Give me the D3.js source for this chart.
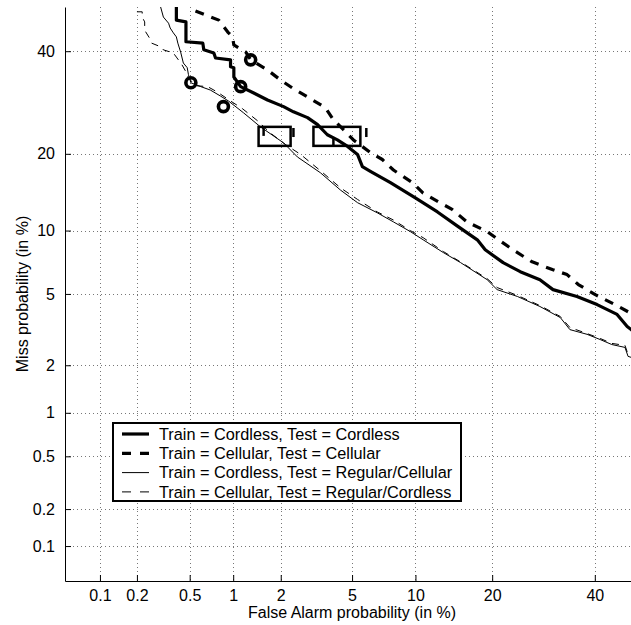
<!DOCTYPE html>
<html>
<head>
<meta charset="utf-8">
<script src="https://cdn.jsdelivr.net/npm/d3@7"></script>
<style>
  body { margin: 0; background: #fff; }
  text { font-family: "Liberation Sans", Arial, Helvetica, sans-serif; }
</style>
</head>
<body>
<div id="chart"></div>
<script>
// tick values (in %)
var xTicks = [0.1, 0.2, 0.5, 1, 2, 5, 10, 20, 40];
var yTicks = [0.1, 0.2, 0.5, 1, 2, 5, 10, 20, 40];

// DET curves: [false alarm %, miss %]
var cordlessCordless = [[0.40,50],[0.40,47.0],[0.47,46.6],[0.47,42.1],[0.62,41.8],[0.63,40.3],[0.74,39.6],[0.76,38.5],
  [0.96,38.1],[0.96,36.6],[1.01,36.4],[1.01,34.4],[1.12,32.4],[1.36,31.1],[1.66,29.7],[2.08,28.4],[2.38,27.4],
  [2.87,26.3],[3.27,25.0],[3.70,23.2],[4.19,22.3],[4.74,21.2],[5.33,19.9],[5.64,18.0],[6.18,17.3],[7.71,15.7],
  [9.99,13.7],[12.4,12.0],[15.0,10.4],[17.7,9.1],[18.9,8.2],[21.8,7.14],[24.8,6.46],[28.5,5.90],[31.1,5.26],
  [36.1,4.85],[40.5,4.40],[45.0,3.90],[47.3,3.35],[48.2,3.22],[50,3.03]];

var cellularCellular = [[0.55,49.1],[0.80,47.0],[0.92,44.3],[0.99,43.2],[1.01,41.4],[1.21,39.8],[1.30,38.1],
  [1.66,35.9],[1.99,33.8],[2.35,32.1],[2.87,30.3],[3.61,28.2],[3.99,25.9],[4.51,24.1],[5.08,22.3],[6.18,20.2],
  [7.06,19.1],[7.96,17.5],[9.70,15.7],[10.8,14.3],[12.5,13.2],[14.2,12.3],[16.2,10.9],[19.2,9.9],[21.3,9.0],
  [23.5,8.2],[27.0,7.2],[31.1,6.6],[34.0,6.25],[36.4,5.58],[40.1,4.96],[44.5,4.40],[48.2,3.95],[50,3.75]];

var cordlessRegular = [[0.305,50],[0.32,47.7],[0.35,46.3],[0.36,45.2],[0.38,44.1],[0.40,43.2],[0.41,41.8],[0.43,39.8],
  [0.45,37.4],[0.48,36.4],[0.49,34.9],[0.51,33.2],[0.60,32.4],[0.70,31.7],[0.82,30.5],[0.93,29.5],[1.17,27.2],
  [1.50,24.6],[2.08,21.8],[2.51,19.5],[3.39,17.1],[4.35,14.7],[5.33,13.1],[6.68,11.9],[7.96,10.9],[9.49,9.9],
  [10.8,9.1],[13.1,7.96],[15.3,7.15],[19.2,5.90],[20.8,5.26],[24.3,4.85],[28.5,4.30],[32.6,3.75],[34.6,3.22],
  [38.3,3.03],[41.2,2.83],[43.8,2.65],[46.8,2.55],[47.5,2.26],[48.2,2.23],[50,2.18]];

var cellularRegular = [[0.20,48.9],[0.22,48.9],[0.22,47.7],[0.23,46.6],[0.23,44.7],[0.25,43.0],[0.26,41.8],[0.31,40.9],
  [0.32,40.3],[0.38,39.6],[0.40,38.7],[0.44,37.0],[0.47,35.5],[0.49,34.2],[0.55,32.6],[0.67,32.4],[0.74,31.7],
  [0.80,31.1],[0.96,29.5],[1.15,28.0],[1.44,25.7],[1.73,23.5],[2.14,21.5],[2.62,19.9],[3.39,17.4],[4.35,15.0],
  [5.33,13.5],[6.68,12.0],[7.96,11.1],[9.49,10.0],[10.8,9.3],[13.1,8.05],[15.3,7.2],[19.2,5.97],[20.8,5.39],
  [24.3,4.91],[28.5,4.35],[32.6,3.80],[34.6,3.31],[38.3,3.06],[41.2,2.87],[43.8,2.69],[46.8,2.62],[47.5,2.32],
  [48.2,2.29],[50,2.25]];

// operating points (circles), min-cost boxes [fa0, fa1, miss0, miss1]
// and the short dashed-box edges beside them [fa, miss0, miss1]
var circlePoints = [[1.12,32.4],[1.30,38.1],[0.51,33.2],[0.86,28.4]];
var boxesSolid = [[1.46,2.29,21.3,24.6],[3.10,5.51,21.3,24.6]];
var boxTicks = [[1.57,23.0,24.6],[2.38,22.8,24.4],[3.99,21.3,22.5],[5.90,22.8,24.4]];

var legendLabels = [
  "Train = Cordless, Test = Cordless",
  "Train = Cellular, Test = Cellular",
  "Train = Cordless, Test = Regular/Cellular",
  "Train = Cellular, Test = Regular/Cordless"
];

// inverse normal cdf (Acklam)
function probit(p) {
  var a = [-3.969683028665376e+01, 2.209460984245205e+02, -2.759285104469687e+02, 1.383577518672690e+02, -3.066479806614716e+01, 2.506628277459239e+00];
  var b = [-5.447609879822406e+01, 1.615858368580409e+02, -1.556989798598866e+02, 6.680131188771972e+01, -1.328068155288572e+01];
  var c = [-7.784894002430293e-03, -3.223964580411365e-01, -2.400758277161838e+00, -2.549732539343734e+00, 4.374664141464968e+00, 2.938163982698783e+00];
  var d = [7.784695709041462e-03, 3.224671290700398e-01, 2.445134137142996e+00, 3.754408661907416e+00];
  var pl = 0.02425, q, r;
  if (p < pl) {
    q = Math.sqrt(-2 * Math.log(p));
    return (((((c[0]*q+c[1])*q+c[2])*q+c[3])*q+c[4])*q+c[5]) / ((((d[0]*q+d[1])*q+d[2])*q+d[3])*q+1);
  }
  if (p <= 1 - pl) {
    q = p - 0.5; r = q * q;
    return (((((a[0]*r+a[1])*r+a[2])*r+a[3])*r+a[4])*r+a[5])*q / (((((b[0]*r+b[1])*r+b[2])*r+b[3])*r+b[4])*r+1);
  }
  q = Math.sqrt(-2 * Math.log(1 - p));
  return -(((((c[0]*q+c[1])*q+c[2])*q+c[3])*q+c[4])*q+c[5]) / ((((d[0]*q+d[1])*q+d[2])*q+d[3])*q+1);
}
function dev(pct) { return probit(pct / 100); }

var width = 631, height = 625;
var plotL = 65, plotR = 639, plotT = 7, plotB = 581;

var x = d3.scaleLinear().domain([dev(0.05), dev(50)]).range([plotL, plotR]);
var y = d3.scaleLinear().domain([dev(0.05), dev(50)]).range([plotB, plotT]);

var svg = d3.select("#chart").append("svg")
  .attr("width", width)
  .attr("height", height);

svg.append("defs").append("clipPath").attr("id", "plotclip")
  .append("rect")
    .attr("x", plotL).attr("y", plotT)
    .attr("width", plotR - plotL).attr("height", plotB - plotT);

// dotted grid
var grid = svg.append("g").attr("stroke", "#777").attr("stroke-width", 1).attr("stroke-dasharray", "1,3");
grid.selectAll(".vg").data(xTicks).join("line")
  .attr("x1", d => Math.round(x(dev(d))) + 0.5).attr("x2", d => Math.round(x(dev(d))) + 0.5)
  .attr("y1", plotT).attr("y2", plotB);
grid.selectAll(".hg").data(yTicks).join("line")
  .attr("y1", d => Math.round(y(dev(d))) + 0.5).attr("y2", d => Math.round(y(dev(d))) + 0.5)
  .attr("x1", plotL).attr("x2", plotR);

// axes
var xAxis = d3.axisBottom(x)
  .tickValues(xTicks.map(dev))
  .tickFormat((d, i) => xTicks[i])
  .tickSizeInner(-6).tickSizeOuter(0).tickPadding(9);
var yAxis = d3.axisLeft(y)
  .tickValues(yTicks.map(dev))
  .tickFormat((d, i) => yTicks[i])
  .tickSizeInner(-6).tickSizeOuter(0).tickPadding(10);

var gx = svg.append("g").attr("transform", "translate(0," + plotB + ")").call(xAxis);
var gy = svg.append("g").attr("transform", "translate(" + plotL + ",0)").call(yAxis);
[gx, gy].forEach(function(g) {
  g.selectAll("text").attr("font-size", "16px").attr("fill", "#000")
    .attr("font-family", "'Liberation Sans', Arial, sans-serif");
  g.select(".domain").attr("stroke", "#000");
  g.selectAll(".tick line").attr("stroke", "#000");
});

svg.append("text")
  .attr("x", (plotL + plotR) / 2).attr("y", 618)
  .attr("text-anchor", "middle").attr("font-size", "16px")
  .text("False Alarm probability (in %)");
svg.append("text")
  .attr("transform", "translate(28," + ((plotT + plotB) / 2) + ") rotate(-90)")
  .attr("text-anchor", "middle").attr("font-size", "16px")
  .text("Miss probability (in %)");

// curves
var series = [
  {data: cordlessCordless, w: 3.2, dash: null},
  {data: cellularCellular, w: 3.2, dash: "9,8"},
  {data: cordlessRegular, w: 1, dash: null},
  {data: cellularRegular, w: 1, dash: "7,6"}
];
var line = d3.line().x(d => x(dev(d[0]))).y(d => y(dev(d[1])));

var plot = svg.append("g").attr("clip-path", "url(#plotclip)");
plot.selectAll(".curve").data(series).join("path")
  .attr("fill", "none")
  .attr("stroke", "#000")
  .attr("stroke-width", d => d.w)
  .attr("stroke-dasharray", d => d.dash)
  .attr("stroke-linejoin", "round")
  .attr("d", d => line(d.data));

plot.selectAll(".bs").data(boxesSolid).join("rect")
  .attr("x", d => x(dev(d[0]))).attr("y", d => y(dev(d[3])))
  .attr("width", d => x(dev(d[1])) - x(dev(d[0])))
  .attr("height", d => y(dev(d[2])) - y(dev(d[3])))
  .attr("fill", "none").attr("stroke", "#000").attr("stroke-width", 2.5);
plot.selectAll(".bt").data(boxTicks).join("line")
  .attr("x1", d => x(dev(d[0]))).attr("x2", d => x(dev(d[0])))
  .attr("y1", d => y(dev(d[1]))).attr("y2", d => y(dev(d[2])))
  .attr("stroke", "#000").attr("stroke-width", 2.5);

plot.selectAll(".pt").data(circlePoints).join("circle")
  .attr("cx", d => x(dev(d[0]))).attr("cy", d => y(dev(d[1])))
  .attr("r", 5).attr("fill", "none").attr("stroke", "#000").attr("stroke-width", 3.6);

// legend
var lg = svg.append("g");
lg.append("rect")
  .attr("x", 113).attr("y", 423).attr("width", 348).attr("height", 78)
  .attr("fill", "#fff").attr("stroke", "#000").attr("stroke-width", 2);
var rows = lg.selectAll(".row").data(series).join("g")
  .attr("transform", (d, i) => "translate(0," + (434 + i * 19.3) + ")");
rows.append("line")
  .attr("x1", 122).attr("x2", 149).attr("y1", 0).attr("y2", 0)
  .attr("stroke", "#000")
  .attr("stroke-width", d => d.w)
  .attr("stroke-dasharray", d => d.dash ? "9,9" : null);
rows.append("text")
  .attr("x", 159).attr("y", 0).attr("dy", "0.36em")
  .attr("font-size", "16.3px")
  .text((d, i) => legendLabels[i]);
</script>
</body>
</html>
